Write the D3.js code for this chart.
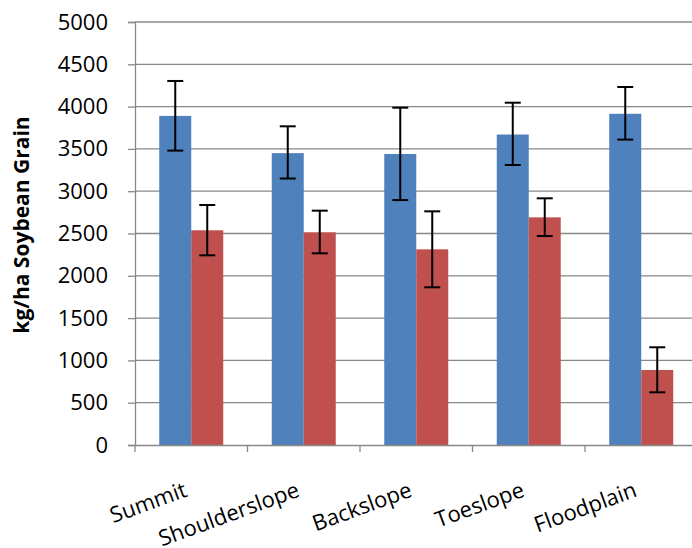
<!DOCTYPE html>
<html>
<head>
<meta charset="utf-8">
<script src="https://cdn.jsdelivr.net/npm/d3@7"></script>
<style>
  html, body { margin: 0; padding: 0; background: #fff; }
  svg { display: block; }
</style>
</head>
<body>
<svg id="chart" width="692" height="548"></svg>
<script>
const categories = ["Summit", "Shoulderslope", "Backslope", "Toeslope", "Floodplain"];
const seriesNames = ["Series A", "Series B"];
const blueValues = [3890, 3450, 3440, 3670, 3915];
const blueLow    = [3480, 3150, 2895, 3310, 3610];
const blueHigh   = [4303, 3767, 3987, 4046, 4232];
const redValues  = [2538, 2514, 2313, 2691, 887];
const redLow     = [2242, 2266, 1864, 2470, 623];
const redHigh    = [2837, 2770, 2762, 2916, 1155];
const yTicks = [0, 500, 1000, 1500, 2000, 2500, 3000, 3500, 4000, 4500, 5000];
const colors = ["#4F81BD", "#C0504D"];
const yTitle = "kg/ha Soybean Grain";

(function () {
const svg = d3.select("#chart");
const plotLeft = 135, plotRight = 697.5, plotTop = 22, plotBottom = 445;

const y = d3.scaleLinear().domain([0, 5000]).range([plotBottom, plotTop]);
const x0 = d3.scaleBand().domain(categories).range([plotLeft, plotRight]).paddingInner(0).paddingOuter(0);
const x1 = d3.scaleBand().domain(seriesNames).range([0, x0.bandwidth()]).paddingInner(0).paddingOuter(0.758);

const gridColor = "#888888";

// gridlines
svg.append("g").selectAll("line").data(yTicks.filter(d => d > 0)).join("line")
  .attr("x1", plotLeft).attr("x2", 692)
  .attr("y1", d => y(d)).attr("y2", d => y(d))
  .attr("stroke", gridColor).attr("stroke-width", 1.3);

// y axis
const yAxis = d3.axisLeft(y).tickValues(yTicks).tickSize(7).tickPadding(20).tickFormat(d3.format("d"));
const gy = svg.append("g").attr("transform", `translate(${plotLeft},0)`).call(yAxis);
gy.select(".domain").attr("stroke", gridColor).attr("stroke-width", 1.3);
gy.selectAll(".tick line").attr("stroke", gridColor).attr("stroke-width", 1.3);
gy.selectAll(".tick text").attr("font-family", "'Open Sans', sans-serif").attr("font-size", 22).attr("fill", "#000");

// data
const data = categories.map((c, i) => ({
  cat: c,
  vals: [
    { s: seriesNames[0], v: blueValues[i], lo: blueLow[i], hi: blueHigh[i], c: colors[0] },
    { s: seriesNames[1], v: redValues[i], lo: redLow[i], hi: redHigh[i], c: colors[1] }
  ]
}));

const groups = svg.append("g").selectAll("g").data(data).join("g")
  .attr("transform", d => `translate(${x0(d.cat)},0)`);

groups.selectAll("rect").data(d => d.vals).join("rect")
  .attr("x", d => x1(d.s))
  .attr("width", x1.bandwidth())
  .attr("y", d => y(d.v))
  .attr("height", d => y(0) - y(d.v))
  .attr("fill", d => d.c);

// error bars
const eb = groups.selectAll("g.err").data(d => d.vals).join("g").attr("class", "err");
const cap = 8;
const cx = d => x1(d.s) + x1.bandwidth() / 2;
eb.append("line")
  .attr("x1", cx).attr("x2", cx)
  .attr("y1", d => y(d.lo)).attr("y2", d => y(d.hi))
  .attr("stroke", "#000").attr("stroke-width", 2);
eb.append("line")
  .attr("x1", d => cx(d) - cap).attr("x2", d => cx(d) + cap)
  .attr("y1", d => y(d.lo)).attr("y2", d => y(d.lo))
  .attr("stroke", "#000").attr("stroke-width", 2);
eb.append("line")
  .attr("x1", d => cx(d) - cap).attr("x2", d => cx(d) + cap)
  .attr("y1", d => y(d.hi)).attr("y2", d => y(d.hi))
  .attr("stroke", "#000").attr("stroke-width", 2);

// x axis
const xAxis = d3.axisBottom(x0).tickSize(0).tickFormat("");
const gx = svg.append("g").attr("transform", `translate(0,${plotBottom})`).call(xAxis);
gx.select(".domain").attr("stroke", gridColor).attr("stroke-width", 1.3);
const boundaries = categories.map(c => x0(c)).concat([plotRight]);
gx.selectAll("line.bt").data(boundaries).join("line").attr("class", "bt")
  .attr("x1", d => d).attr("x2", d => d).attr("y1", 0).attr("y2", 7)
  .attr("stroke", gridColor).attr("stroke-width", 1.3);

// x labels
svg.append("g").selectAll("text").data(categories).join("text")
  .attr("transform", d => `translate(${x0(d) + x0.bandwidth() / 2 - 3},496) rotate(-20)`)
  .attr("text-anchor", "end")
  .attr("font-family", "'Open Sans', sans-serif")
  .attr("font-size", 22)
  .attr("fill", "#000")
  .text(d => d);

// y title
svg.append("text")
  .attr("transform", "translate(29,225) rotate(-90)")
  .attr("text-anchor", "middle")
  .attr("font-family", "'Open Sans', sans-serif")
  .attr("font-weight", "bold")
  .attr("font-size", 21)
  .attr("fill", "#000")
  .text(yTitle);
})();
</script>
</body>
</html>
